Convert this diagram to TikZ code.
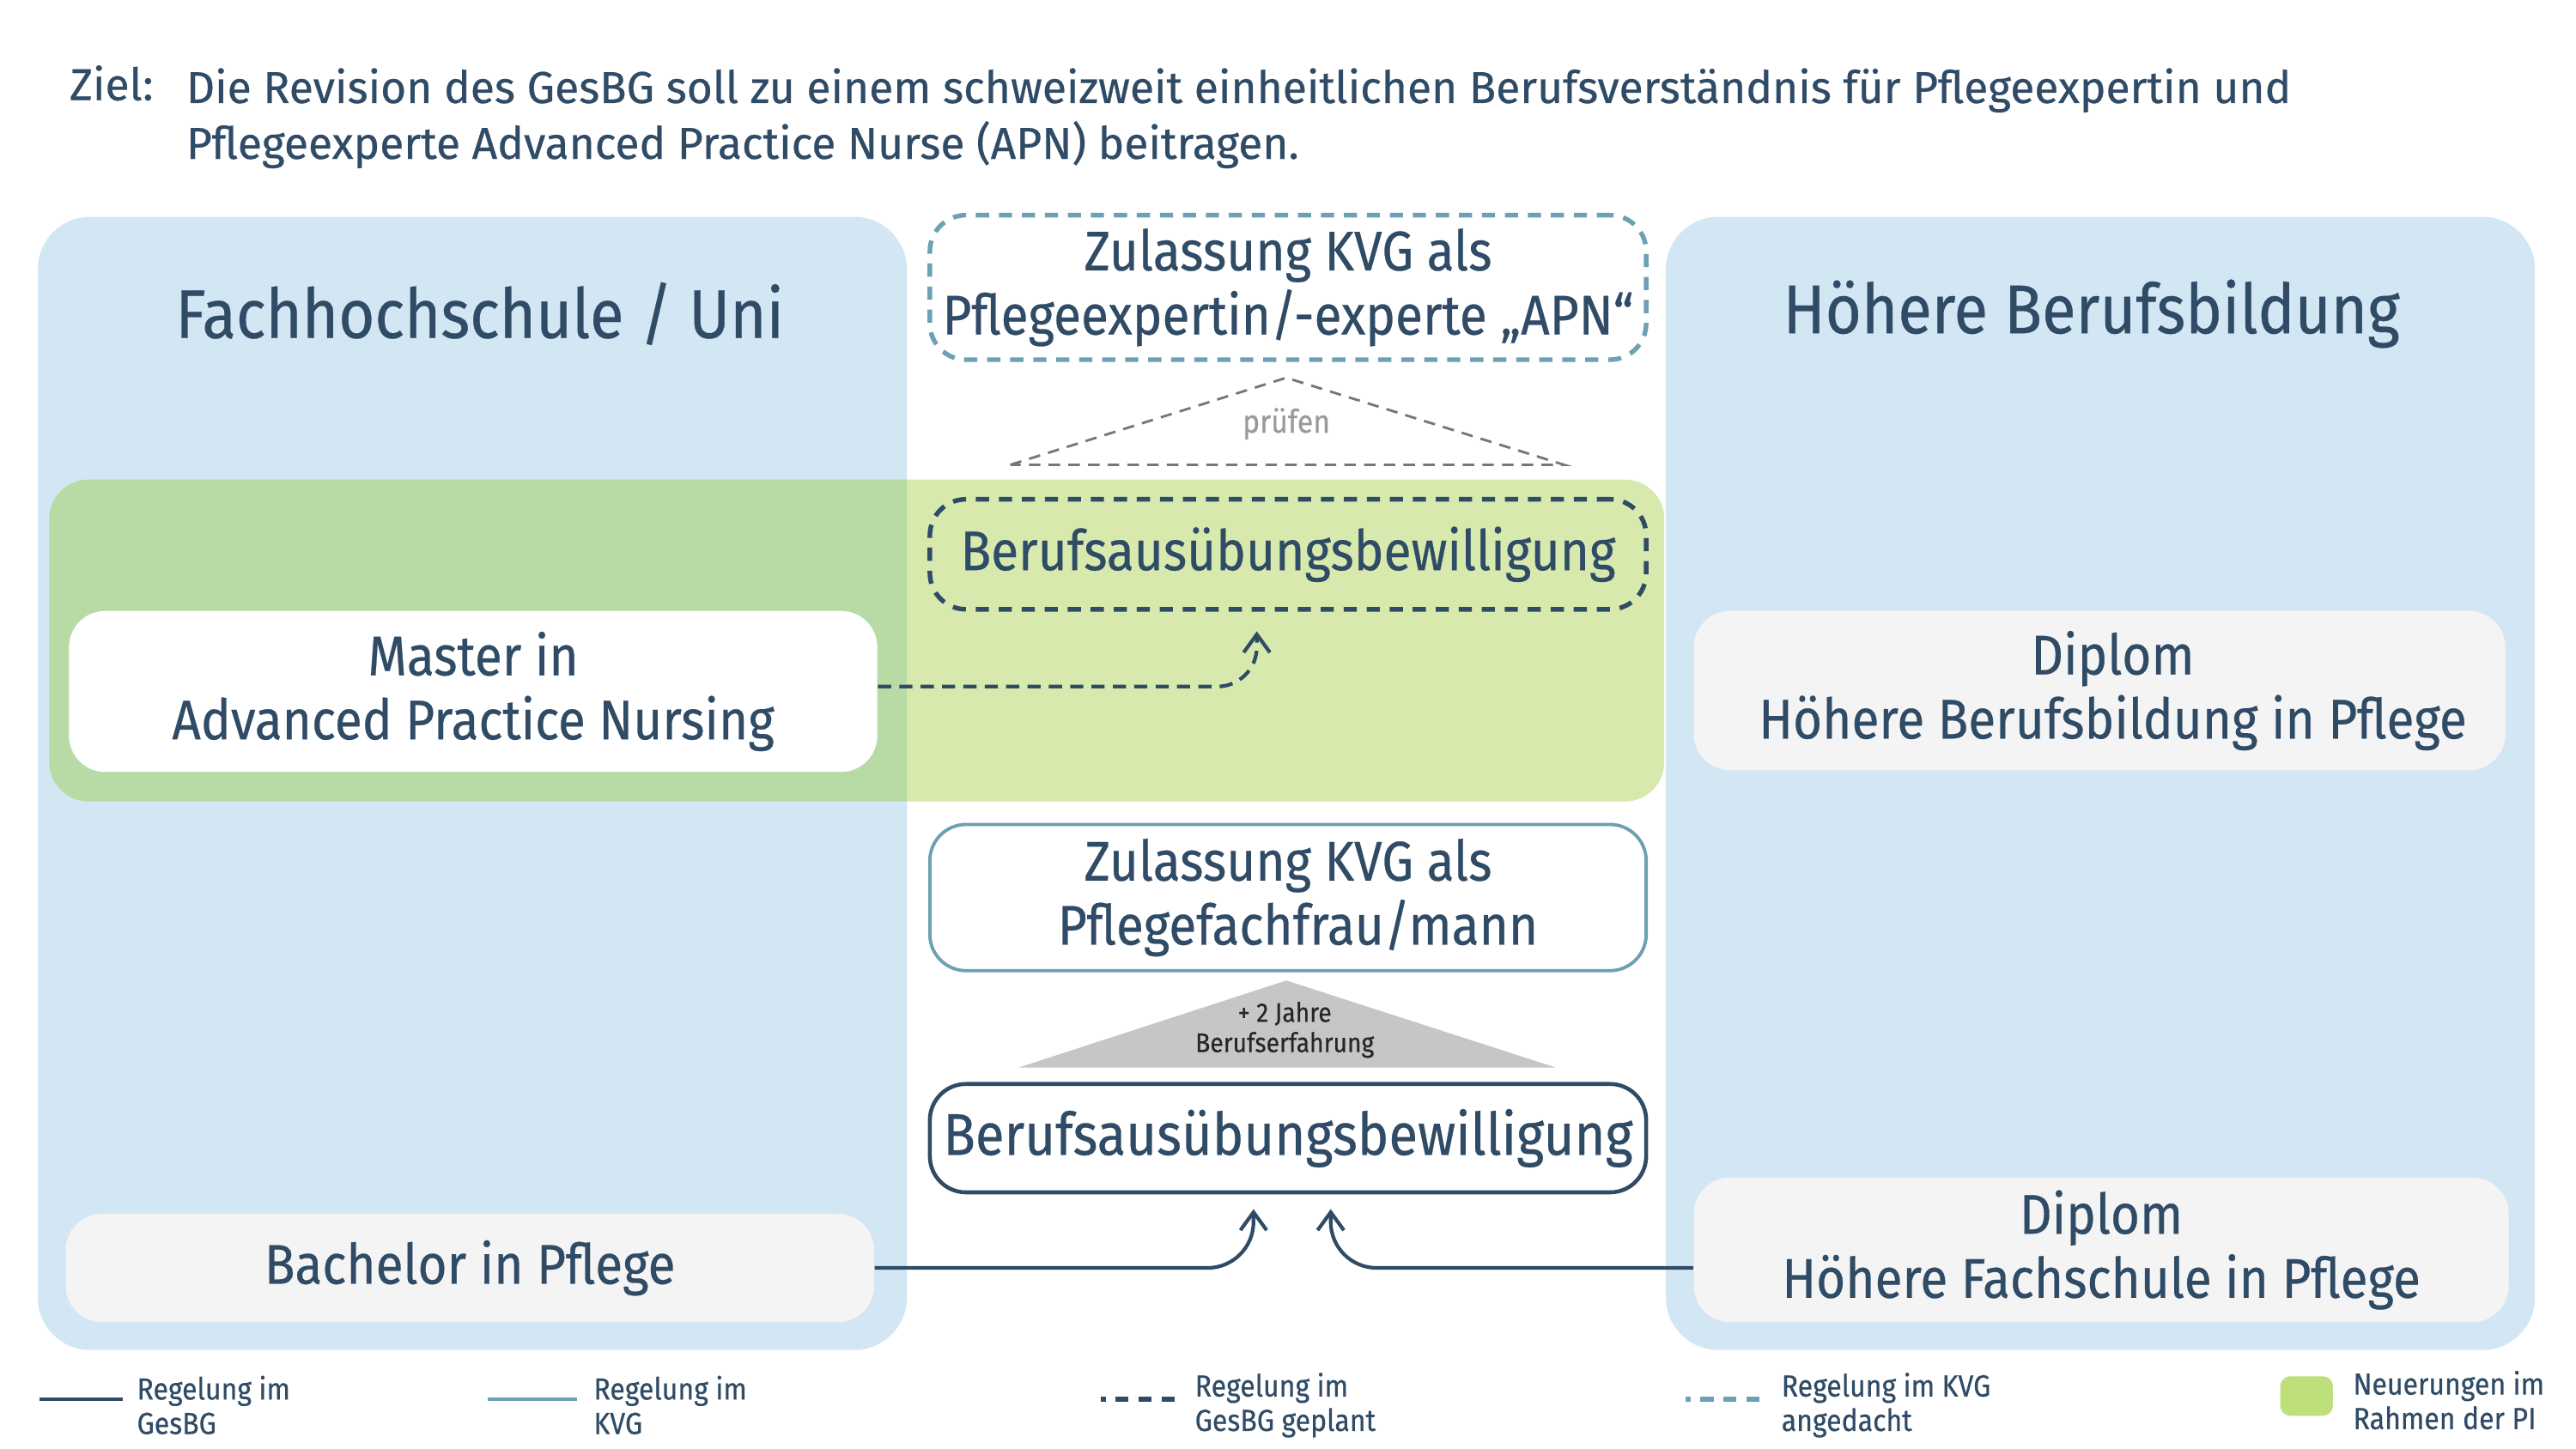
\documentclass[tikz,border=0pt]{standalone}
\usepackage{fontspec}
\setmainfont{Fira Sans}[FakeStretch=0.9, FakeBold=0.4]
\newfontfamily\titlefont{Fira Sans}[FakeStretch=0.99, FakeBold=0.4]
\usetikzlibrary{arrows.meta,calc}
\definecolor{navy}{HTML}{2F4B66}
\definecolor{kvgteal}{HTML}{6BA1B2}
\definecolor{panelblue}{HTML}{D2E6F4}
\definecolor{boxgray}{HTML}{F4F4F4}
\definecolor{bandgreen}{HTML}{D7E9AC}
\definecolor{banddark}{HTML}{B8DBA5}
\definecolor{legendgreen}{HTML}{BEE07A}
\definecolor{trigray}{HTML}{C6C6C6}
\definecolor{dashgray}{HTML}{777777}
\definecolor{prufgray}{HTML}{9A9A9A}
\newcommand\fsTitle{\titlefont\fontsize{13.6pt}{17pt}\selectfont}
\newcommand\fsHead{\fontsize{21pt}{25pt}\selectfont}
\newcommand\fsBox{\fontsize{17pt}{19.5pt}\selectfont}
\newcommand\fsBig{\fontsize{17.9pt}{19.5pt}\selectfont}
\newcommand\fsLeg{\fontsize{9.3pt}{10.5pt}\selectfont}
\newcommand\fsPr{\fontsize{9.8pt}{11pt}\selectfont}
\newcommand\fsTiny{\fontsize{8.2pt}{9.2pt}\selectfont}
\tikzset{
  boxbase/.style={rounded corners=11pt, align=center, font=\fsBox, text=navy, inner sep=0pt, minimum width=218pt},
  solidnavy/.style={boxbase, draw=navy, line width=1.2pt, fill=white},
  solidteal/.style={boxbase, draw=kvgteal, line width=1.0pt, fill=white},
  dashnavy/.style={boxbase, draw=navy, line width=1.4pt, dash pattern=on 4pt off 3pt},
  dashteal/.style={boxbase, draw=kvgteal, line width=1.4pt, dash pattern=on 4pt off 3pt, fill=white},
  eduwhite/.style={rounded corners=11pt, align=center, font=\fsBox, text=navy, inner sep=0pt, fill=white, minimum width=246pt},
  edugray/.style={rounded corners=11pt, align=center, font=\fsBox, text=navy, inner sep=0pt, fill=boxgray},
  heading/.style={font=\fsHead, text=navy, inner sep=0pt},
  legtext/.style={font=\fsLeg, text=navy, align=left, anchor=west, inner sep=0pt},
  conn/.style={navy, line width=1.1pt, rounded corners=14pt, -{Straight Barb[length=5.5pt,width=8pt]}},
  dconn/.style={navy, line width=1.1pt, dash pattern=on 4pt off 2.5pt, rounded corners=12pt, -{Straight Barb[length=5.5pt,width=8pt]}},
}
\begin{document}
\begin{tikzpicture}[x=0.5pt,y=-0.5pt]
\useasboundingbox[fill=white] (0,0) rectangle (1568,882.2);
% title
\node[font=\fsTitle, text=navy, anchor=base west, inner sep=0pt] (ziel) at (42,61) {Ziel:};
\node[font=\fsTitle, text=navy, anchor=west, align=left, inner sep=0pt] (goal) at (113,72)
  {Die Revision des GesBG soll zu einem schweizweit einheitlichen Berufsverständnis für Pflegeexpertin und\\Pflegeexperte Advanced Practice Nurse (APN) beitragen.};
% panels
\fill[panelblue, rounded corners=16pt] (23,132) rectangle (552,822);
\fill[panelblue, rounded corners=16pt] (1014,132) rectangle (1543,822);
% green band
\fill[bandgreen, rounded corners=12pt] (30,292) rectangle (1013,488);
\begin{scope}
  \clip[rounded corners=16pt] (23,132) rectangle (552,822);
  \fill[banddark, rounded corners=12pt] (30,292) rectangle (1013,488);
\end{scope}
% headings
\node[heading] (fh) at (292,191) {Fachhochschule / Uni};
\node[heading] (hb) at (1273,191) {Höhere Berufsbildung};
% education boxes
\node[eduwhite, minimum height=49pt] (master) at (288,421) {Master in\\Advanced Practice Nursing};
\node[edugray, minimum width=247pt, minimum height=48.5pt] (diplomHB) at (1278,420.5) {\hspace*{8pt}Diplom\\\hspace*{8pt}Höhere Berufsbildung in Pflege};
\node[edugray, minimum width=246pt, minimum height=33pt] (bachelor) at (286,772) {Bachelor in Pflege};
\node[edugray, minimum width=248pt, minimum height=44pt] (diplomHF) at (1279,761) {Diplom\\Höhere Fachschule in Pflege};
% middle column
\node[dashteal, minimum height=44pt] (apn) at (784,175) {Zulassung KVG als\\Pflegeexpertin/-experte „APN“};
\node[dashnavy, minimum height=33.5pt] (bewG) at (784,337.5) {Berufsausübungsbewilligung};
\node[solidteal, minimum height=44.5pt] (kvg) at (784,546.5) {Zulassung KVG als\\\hspace*{6pt}Pflegefachfrau/mann};
\node[solidnavy, minimum height=33pt, font=\fsBig] (bew) at (784,693) {Berufsausübungsbewilligung};
% pruefen triangle
\coordinate (pa) at (783,230);
\coordinate (pl) at (615,283);
\coordinate (pr) at (952,283);
\draw[dashgray, line width=0.75pt, dash pattern=on 3.5pt off 2.5pt] (pl) -- (pa) -- (pr) -- cycle;
\node[font=\fsPr, text=prufgray, inner sep=0pt] (pruef) at (783,258) {prüfen};
% experience triangle
\coordinate (ea) at (783,597);
\coordinate (el) at (620,650);
\coordinate (er) at (947,650);
\fill[trigray] (el) -- (ea) -- (er) -- cycle;
\node[font=\fsTiny, text=black!85, align=center, inner sep=0pt] (exp) at (782,627) {+ 2 Jahre\\Berufserfahrung};
% connectors
\coordinate (dtip) at ($(bewG.south)+(-19,12)$);
\coordinate (mstart) at ($(master.east)+(0,-3)$);
\draw[dconn] (mstart) -- (mstart -| dtip) -- (dtip);
\coordinate (ltip) at ($(bew.south)+(-21,9)$);
\coordinate (rtip) at ($(bew.south)+(26,9)$);
\draw[conn] (bachelor.east) -- (bachelor.east -| ltip) -- (ltip);
\draw[conn] (diplomHF.west |- bachelor.east) -- (rtip |- bachelor.east) -- (rtip);
% legend
\coordinate (g1a) at (24,852); \coordinate (g1b) at (75,852);
\draw[navy, line width=1.1pt] (g1a) -- (g1b);
\node[legtext] (lt1) at (83,855.5) {Regelung im\\GesBG};
\coordinate (g2a) at (297,852); \coordinate (g2b) at (351,852);
\draw[kvgteal, line width=1.1pt] (g2a) -- (g2b);
\node[legtext] (lt2) at (361,855.5) {Regelung im\\KVG};
\coordinate (g3a) at (670,852); \coordinate (g3b) at (717,852);
\draw[navy, line width=1.4pt, dash pattern=on 4pt off 3pt, dash phase=2.5pt] (g3a) -- (g3b);
\node[legtext] (lt3) at (727,855.5) {Regelung im\\GesBG geplant};
\coordinate (g4a) at (1026,852); \coordinate (g4b) at (1073,852);
\draw[kvgteal, line width=1.4pt, dash pattern=on 4pt off 3pt, dash phase=2.5pt] (g4a) -- (g4b);
\node[legtext] (lt4) at (1084,855.5) {Regelung im KVG\\angedacht};
\node[fill=legendgreen, rounded corners=3pt, minimum width=16pt, minimum height=12pt, inner sep=0pt] (g5) at (1404,850) {};
\node[legtext] (lt5) at (1432,852.5) {Neuerungen im\\Rahmen der PI};
\end{tikzpicture}
\end{document}
